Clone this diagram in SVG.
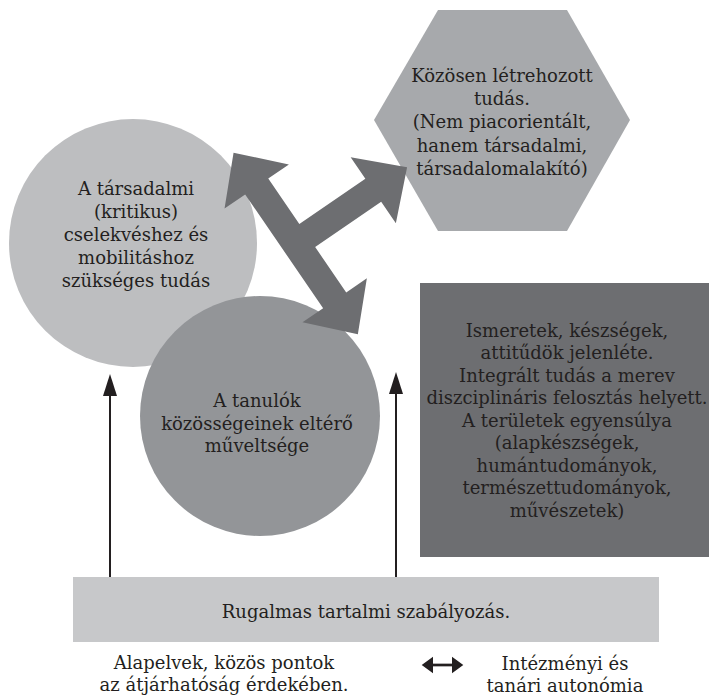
<svg xmlns="http://www.w3.org/2000/svg" width="709" height="696" viewBox="0 0 709 696">
  <style>
    .t { font-family: "DejaVu Serif", "Liberation Serif", serif; font-size: 18px; fill: #231f20; text-anchor: middle; }
    .ln { stroke: #231f20; stroke-width: 2; fill: none; }
  </style>
  <defs>
    <marker id="ah" markerUnits="userSpaceOnUse" markerWidth="22" markerHeight="14" viewBox="0 0 22 14" refX="11" refY="7" orient="auto">
      <path d="M0,0 L22,7 L0,14 Z" fill="#231f20"/>
    </marker>
  </defs>
  <rect width="709" height="696" fill="#ffffff"/>

  <g id="circle-social">
    <circle cx="133" cy="243" r="124" fill="#bdbec0"/>
    <text class="t" x="136" y="195">A társadalmi</text>
    <text class="t" x="136" y="218">(kritikus)</text>
    <text class="t" x="136" y="241">cselekvéshez és</text>
    <text class="t" x="136" y="264">mobilitáshoz</text>
    <text class="t" x="136" y="287">szükséges tudás</text>
  </g>

  <g id="circle-learners">
    <circle cx="260" cy="416" r="120" fill="#939598"/>
    <text class="t" x="257" y="407">A tanulók</text>
    <text class="t" x="257" y="430">közösségeinek eltérő</text>
    <text class="t" x="257" y="452">műveltsége</text>
  </g>

  <g id="hexagon-knowledge">
    <polygon points="438,10 567,10 630,120 567,231 438,231 374,120" fill="#a7a9ac"/>
    <text class="t" x="502" y="82">Közösen létrehozott</text>
    <text class="t" x="502" y="105">tudás.</text>
    <text class="t" x="502" y="128">(Nem piacorientált,</text>
    <text class="t" x="502" y="151.5">hanem társadalmi,</text>
    <text class="t" x="502" y="175">társadalomalakító)</text>
  </g>

  <g id="box-content">
    <rect x="420" y="283" width="289" height="274" fill="#6d6e71"/>
    <text class="t" x="567" y="336.5">Ismeretek, készségek,</text>
    <text class="t" x="567" y="359">attitűdök jelenléte.</text>
    <text class="t" x="567" y="381.5">Integrált tudás a merev</text>
    <text class="t" x="567" y="404">diszciplináris felosztás helyett.</text>
    <text class="t" x="567" y="426.5">A területek egyensúlya</text>
    <text class="t" x="567" y="449">(alapkészségek,</text>
    <text class="t" x="567" y="471.5">humántudományok,</text>
    <text class="t" x="567" y="494">természettudományok,</text>
    <text class="t" x="567" y="516.5">művészetek)</text>
  </g>

  <g id="bar-regulation">
    <rect x="73" y="577" width="586" height="65" fill="#c7c8ca"/>
    <text class="t" x="366" y="618">Rugalmas tartalmi szabályozás.</text>
  </g>

  <g id="label-principles">
    <text class="t" x="224" y="669">Alapelvek, közös pontok</text>
    <text class="t" x="224" y="691">az átjárhatóság érdekében.</text>
  </g>

  <g id="label-autonomy">
    <text class="t" x="565" y="670">Intézményi és</text>
    <text class="t" x="565" y="692">tanári autonómia</text>
  </g>

  <g id="connectors">
    <polygon fill="#6d6e71" transform="translate(295.7 243.4) rotate(55.6)"
      points="-110,0 -69,-39 -69,-14 -14,-14 -14,-94 -40,-94 0,-135 40,-94 14,-94 14,-14 69,-14 69,-39 110,0 69,39 69,14 -69,14 -69,39"/>
    <line class="ln" x1="110" y1="577" x2="110" y2="385" marker-end="url(#ah)"/>
    <line class="ln" x1="396" y1="577" x2="396" y2="383" marker-end="url(#ah)"/>
    <path d="M421.7,665 L433,656.7 L433,673.3 Z M463.3,665 L452,656.7 L452,673.3 Z" fill="#231f20"/>
    <line x1="432" y1="665" x2="453" y2="665" stroke="#231f20" stroke-width="2.7"/>
  </g>
</svg>
